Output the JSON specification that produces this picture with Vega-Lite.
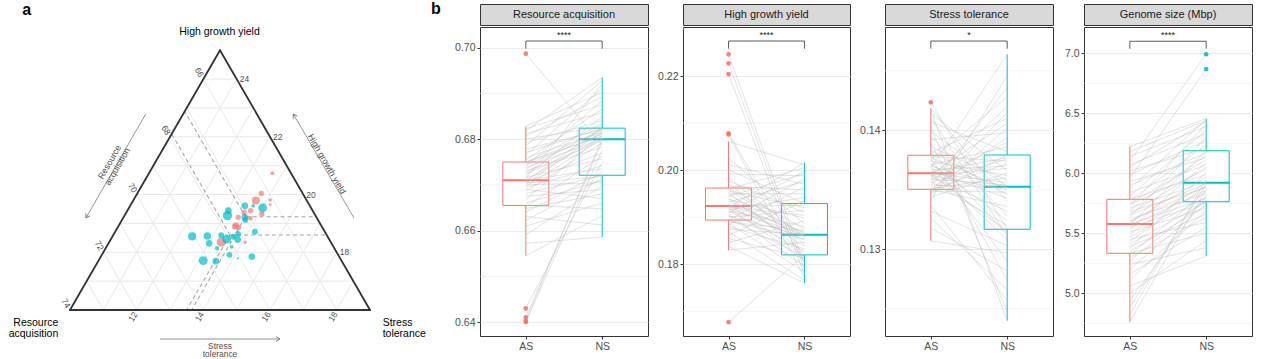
{
 "$schema": "https://vega.github.io/schema/vega-lite/v6.json",
 "padding": {"left": 0, "top": 0, "right": 0, "bottom": 0},
 "background": "white",
 "config": {
  "font": "Liberation Sans",
  "view": {"stroke": "#333333", "strokeWidth": 1},
  "axis": {"domain": false, "tickColor": "#333333", "tickSize": 3, "tickWidth": 1, "labelColor": "#4D4D4D", "labelFontSize": 10.5, "gridColor": "#EBEBEB", "gridWidth": 1.1, "labelPadding": 2, "title": null, "labelOverlap": false},
  "axisX": {"labelAngle": 0}
 },
 "datasets": {
  "tlines": [
   {"k":"grid","h1":17,"s1":10,"h2":17,"s2":18},{"k":"grid","h1":18,"s1":10,"h2":18,"s2":17},{"k":"grid","h1":19,"s1":10,"h2":19,"s2":16},{"k":"grid","h1":20,"s1":10,"h2":20,"s2":15},
   {"k":"grid","h1":21,"s1":10,"h2":21,"s2":14},{"k":"grid","h1":22,"s1":10,"h2":22,"s2":13},{"k":"grid","h1":23,"s1":10,"h2":23,"s2":12},{"k":"grid","h1":24,"s1":10,"h2":24,"s2":11},
   {"k":"grid","h1":16,"s1":11,"h2":24,"s2":11},{"k":"grid","h1":16,"s1":12,"h2":23,"s2":12},{"k":"grid","h1":16,"s1":13,"h2":22,"s2":13},{"k":"grid","h1":16,"s1":14,"h2":21,"s2":14},
   {"k":"grid","h1":16,"s1":15,"h2":20,"s2":15},{"k":"grid","h1":16,"s1":16,"h2":19,"s2":16},{"k":"grid","h1":16,"s1":17,"h2":18,"s2":17},{"k":"grid","h1":16,"s1":18,"h2":17,"s2":18},
   {"k":"grid","h1":16,"s1":18,"h2":24,"s2":10},{"k":"grid","h1":16,"s1":17,"h2":23,"s2":10},{"k":"grid","h1":16,"s1":16,"h2":22,"s2":10},{"k":"grid","h1":16,"s1":15,"h2":21,"s2":10},
   {"k":"grid","h1":16,"s1":14,"h2":20,"s2":10},{"k":"grid","h1":16,"s1":13,"h2":19,"s2":10},{"k":"grid","h1":16,"s1":12,"h2":18,"s2":10},{"k":"grid","h1":16,"s1":11,"h2":17,"s2":10},
   {"k":"edge","h1":16,"s1":10,"h2":25,"s2":10},{"k":"edge","h1":16,"s1":10,"h2":16,"s2":19},{"k":"edge","h1":16,"s1":19,"h2":25,"s2":10},
   {"k":"med","h1":19.23,"s1":13.65,"h2":19.23,"s2":15.77},{"k":"med","h1":19.23,"s1":13.65,"h2":22.88,"s2":10},{"k":"med","h1":19.23,"s1":13.65,"h2":16,"s2":13.65},
   {"k":"med","h1":18.6,"s1":13.5,"h2":18.6,"s2":16.4},{"k":"med","h1":18.6,"s1":13.5,"h2":22.1,"s2":10},{"k":"med","h1":18.6,"s1":13.5,"h2":16,"s2":13.5}
  ],
  "tpts": [
   {"g":"AS","h":20.74,"s":13.70,"n":9},{"g":"AS","h":20.04,"s":13.72,"n":17},{"g":"AS","h":19.79,"s":13.68,"n":40},{"g":"AS","h":19.81,"s":14.10,"n":7},
   {"g":"AS","h":19.65,"s":14.18,"n":5},{"g":"AS","h":19.44,"s":13.70,"n":17},{"g":"AS","h":19.33,"s":14.09,"n":17},{"g":"AS","h":19.21,"s":13.44,"n":17},
   {"g":"AS","h":19.18,"s":13.82,"n":13},{"g":"AS","h":18.94,"s":13.51,"n":20},{"g":"AS","h":18.89,"s":13.49,"n":20},{"g":"AS","h":18.86,"s":13.62,"n":20},
   {"g":"AS","h":18.35,"s":13.36,"n":50},{"g":"AS","h":18.35,"s":14.08,"n":7},{"g":"AS","h":19.38,"s":13.53,"n":17},
   {"g":"NS","h":19.61,"s":13.44,"n":28},{"g":"NS","h":19.61,"s":13.69,"n":9},{"g":"NS","h":19.54,"s":14.01,"n":50},{"g":"NS","h":19.44,"s":13.03,"n":28},
   {"g":"NS","h":19.27,"s":13.09,"n":55},{"g":"NS","h":19.21,"s":13.64,"n":28},{"g":"NS","h":19.12,"s":13.70,"n":22},{"g":"NS","h":18.71,"s":14.19,"n":22},
   {"g":"NS","h":18.55,"s":12.39,"n":42},{"g":"NS","h":18.56,"s":12.84,"n":35},{"g":"NS","h":18.31,"s":13.02,"n":28},{"g":"NS","h":18.59,"s":13.24,"n":22},
   {"g":"NS","h":18.46,"s":13.47,"n":50},{"g":"NS","h":18.54,"s":13.63,"n":22},{"g":"NS","h":18.63,"s":13.73,"n":22},{"g":"NS","h":18.44,"s":13.81,"n":28},
   {"g":"NS","h":18.14,"s":13.34,"n":12},{"g":"NS","h":18.19,"s":13.75,"n":9},{"g":"NS","h":17.71,"s":13.14,"n":50},{"g":"NS","h":17.69,"s":13.53,"n":28},
   {"g":"NS","h":17.91,"s":13.83,"n":22},{"g":"NS","h":17.79,"s":14.14,"n":3},{"g":"NS","h":17.85,"s":14.53,"n":28}
  ],
  "tlab": [
   {"side":"R","lab":"24","h":24,"s":11},{"side":"R","lab":"22","h":22,"s":13},{"side":"R","lab":"20","h":20,"s":15},{"side":"R","lab":"18","h":18,"s":17},
   {"side":"L","lab":"66","h":24,"s":10},{"side":"L","lab":"68","h":22,"s":10},{"side":"L","lab":"70","h":20,"s":10},{"side":"L","lab":"72","h":18,"s":10},{"side":"L","lab":"74","h":16,"s":10},
   {"side":"B","lab":"12","h":16,"s":12},{"side":"B","lab":"14","h":16,"s":14},{"side":"B","lab":"16","h":16,"s":16},{"side":"B","lab":"18","h":16,"s":18}
  ],
  "minor": [
   {"t":"RA","v":0.65},{"t":"RA","v":0.67},{"t":"RA","v":0.69},
   {"t":"HGY","v":0.17},{"t":"HGY","v":0.19},{"t":"HGY","v":0.21},{"t":"HGY","v":0.23},
   {"t":"ST","v":0.125},{"t":"ST","v":0.135},{"t":"ST","v":0.145},
   {"t":"GS","v":4.75},{"t":"GS","v":5.25},{"t":"GS","v":5.75},{"t":"GS","v":6.25},{"t":"GS","v":6.75}
  ],
  "stats": [
   {"t":"RA","g":"AS","lo":0.6545,"q1":0.6655,"med":0.6710,"q3":0.6750,"hi":0.6828},
   {"t":"RA","g":"NS","lo":0.6586,"q1":0.6721,"med":0.6800,"q3":0.6824,"hi":0.6935},
   {"t":"HGY","g":"AS","lo":0.1830,"q1":0.1894,"med":0.1924,"q3":0.1962,"hi":0.2061},
   {"t":"HGY","g":"NS","lo":0.1760,"q1":0.1820,"med":0.1863,"q3":0.1929,"hi":0.2016},
   {"t":"ST","g":"AS","lo":0.1307,"q1":0.13504,"med":0.13639,"q3":0.1379,"hi":0.14185},
   {"t":"ST","g":"NS","lo":0.1240,"q1":0.13168,"med":0.13526,"q3":0.13792,"hi":0.14638},
   {"t":"GS","g":"AS","lo":4.763,"q1":5.333,"med":5.578,"q3":5.783,"hi":6.222},
   {"t":"GS","g":"NS","lo":5.311,"q1":5.763,"med":5.922,"q3":6.188,"hi":6.455}
  ],
  "br": [
   {"t":"RA","top":0.70147,"leg":0.69978,"lab":"****"},
   {"t":"HGY","top":0.22743,"leg":0.2258,"lab":"****"},
   {"t":"ST","top":0.1475,"leg":0.14686,"lab":"*"},
   {"t":"GS","top":7.1,"leg":7.038,"lab":"****"}
  ],
  "outl": [
   {"t":"RA","g":"AS","v":0.6987},{"t":"RA","g":"AS","v":0.6430},{"t":"RA","g":"AS","v":0.6410},{"t":"RA","g":"AS","v":0.6402},{"t":"RA","g":"AS","v":0.6400},
   {"t":"HGY","g":"AS","v":0.2246},{"t":"HGY","g":"AS","v":0.2227},{"t":"HGY","g":"AS","v":0.2204},{"t":"HGY","g":"AS","v":0.2078},{"t":"HGY","g":"AS","v":0.2076},{"t":"HGY","g":"AS","v":0.1677},
   {"t":"ST","g":"AS","v":0.14235},
   {"t":"GS","g":"NS","v":6.992},{"t":"GS","g":"NS","v":6.869}
  ],
  "pairs": [
   {"t":"RA","id":1,"AS":0.6400,"NS":0.6776},{"t":"RA","id":2,"AS":0.6402,"NS":0.6803},{"t":"RA","id":3,"AS":0.6410,"NS":0.6795},{"t":"RA","id":4,"AS":0.6430,"NS":0.6750},
   {"t":"RA","id":5,"AS":0.6545,"NS":0.6633},{"t":"RA","id":6,"AS":0.6572,"NS":0.6586},{"t":"RA","id":7,"AS":0.6591,"NS":0.6698},{"t":"RA","id":8,"AS":0.6610,"NS":0.6660},
   {"t":"RA","id":9,"AS":0.6622,"NS":0.6714},{"t":"RA","id":10,"AS":0.6631,"NS":0.6612},{"t":"RA","id":11,"AS":0.6640,"NS":0.6727},{"t":"RA","id":12,"AS":0.6648,"NS":0.6680},
   {"t":"RA","id":13,"AS":0.6652,"NS":0.6763},{"t":"RA","id":14,"AS":0.6655,"NS":0.6648},{"t":"RA","id":15,"AS":0.6660,"NS":0.6710},{"t":"RA","id":16,"AS":0.6668,"NS":0.6809},
   {"t":"RA","id":17,"AS":0.6675,"NS":0.6690},{"t":"RA","id":18,"AS":0.6681,"NS":0.6721},{"t":"RA","id":19,"AS":0.6686,"NS":0.6792},{"t":"RA","id":20,"AS":0.6690,"NS":0.6670},
   {"t":"RA","id":21,"AS":0.6694,"NS":0.6742},{"t":"RA","id":22,"AS":0.6697,"NS":0.6800},{"t":"RA","id":23,"AS":0.6700,"NS":0.6705},{"t":"RA","id":24,"AS":0.6702,"NS":0.6817},
   {"t":"RA","id":25,"AS":0.6704,"NS":0.6718},{"t":"RA","id":26,"AS":0.6706,"NS":0.6770},{"t":"RA","id":27,"AS":0.6708,"NS":0.6824},{"t":"RA","id":28,"AS":0.6710,"NS":0.6735},
   {"t":"RA","id":29,"AS":0.6711,"NS":0.6805},{"t":"RA","id":30,"AS":0.6714,"NS":0.6920},{"t":"RA","id":31,"AS":0.6717,"NS":0.6757},{"t":"RA","id":32,"AS":0.6720,"NS":0.6849},
   {"t":"RA","id":33,"AS":0.6724,"NS":0.6798},{"t":"RA","id":34,"AS":0.6727,"NS":0.6813},{"t":"RA","id":35,"AS":0.6731,"NS":0.6782},{"t":"RA","id":36,"AS":0.6735,"NS":0.6822},
   {"t":"RA","id":37,"AS":0.6738,"NS":0.6801},{"t":"RA","id":38,"AS":0.6741,"NS":0.6884},{"t":"RA","id":39,"AS":0.6744,"NS":0.6811},{"t":"RA","id":40,"AS":0.6747,"NS":0.6819},
   {"t":"RA","id":41,"AS":0.6749,"NS":0.6834},{"t":"RA","id":42,"AS":0.6750,"NS":0.6807},{"t":"RA","id":43,"AS":0.6754,"NS":0.6866},{"t":"RA","id":44,"AS":0.6759,"NS":0.6815},
   {"t":"RA","id":45,"AS":0.6765,"NS":0.6911},{"t":"RA","id":46,"AS":0.6771,"NS":0.6823},{"t":"RA","id":47,"AS":0.6778,"NS":0.6821},{"t":"RA","id":48,"AS":0.6785,"NS":0.6928},
   {"t":"RA","id":49,"AS":0.6792,"NS":0.6841},{"t":"RA","id":50,"AS":0.6800,"NS":0.6828},{"t":"RA","id":51,"AS":0.6806,"NS":0.6893},{"t":"RA","id":52,"AS":0.6812,"NS":0.6858},
   {"t":"RA","id":53,"AS":0.6818,"NS":0.6935},{"t":"RA","id":54,"AS":0.6823,"NS":0.6875},{"t":"RA","id":55,"AS":0.6828,"NS":0.6902},{"t":"RA","id":56,"AS":0.6987,"NS":0.6787},
   {"t":"HGY","id":1,"AS":0.1677,"NS":0.1820},{"t":"HGY","id":2,"AS":0.1830,"NS":0.1847},{"t":"HGY","id":3,"AS":0.1838,"NS":0.1760},{"t":"HGY","id":4,"AS":0.1846,"NS":0.1892},
   {"t":"HGY","id":5,"AS":0.1855,"NS":0.1813},{"t":"HGY","id":6,"AS":0.1862,"NS":0.1935},{"t":"HGY","id":7,"AS":0.1869,"NS":0.1766},{"t":"HGY","id":8,"AS":0.1875,"NS":0.1863},
   {"t":"HGY","id":9,"AS":0.1880,"NS":0.1833},{"t":"HGY","id":10,"AS":0.1884,"NS":0.1964},{"t":"HGY","id":11,"AS":0.1887,"NS":0.1784},{"t":"HGY","id":12,"AS":0.1890,"NS":0.1872},
   {"t":"HGY","id":13,"AS":0.1892,"NS":0.1854},{"t":"HGY","id":14,"AS":0.1894,"NS":0.1982},{"t":"HGY","id":15,"AS":0.1897,"NS":0.1816},{"t":"HGY","id":16,"AS":0.1900,"NS":0.1915},
   {"t":"HGY","id":17,"AS":0.1903,"NS":0.1860},{"t":"HGY","id":18,"AS":0.1906,"NS":0.1796},{"t":"HGY","id":19,"AS":0.1909,"NS":0.1998},{"t":"HGY","id":20,"AS":0.1912,"NS":0.1881},
   {"t":"HGY","id":21,"AS":0.1914,"NS":0.1828},{"t":"HGY","id":22,"AS":0.1916,"NS":0.1942},{"t":"HGY","id":23,"AS":0.1918,"NS":0.1862},{"t":"HGY","id":24,"AS":0.1920,"NS":0.1809},
   {"t":"HGY","id":25,"AS":0.1921,"NS":0.2016},{"t":"HGY","id":26,"AS":0.1922,"NS":0.1904},{"t":"HGY","id":27,"AS":0.1923,"NS":0.1851},{"t":"HGY","id":28,"AS":0.1924,"NS":0.1925},
   {"t":"HGY","id":29,"AS":0.1926,"NS":0.1868},{"t":"HGY","id":30,"AS":0.1929,"NS":0.1818},{"t":"HGY","id":31,"AS":0.1932,"NS":0.1976},{"t":"HGY","id":32,"AS":0.1935,"NS":0.1859},
   {"t":"HGY","id":33,"AS":0.1938,"NS":0.1898},{"t":"HGY","id":34,"AS":0.1941,"NS":0.1838},{"t":"HGY","id":35,"AS":0.1944,"NS":0.1993},{"t":"HGY","id":36,"AS":0.1947,"NS":0.1865},
   {"t":"HGY","id":37,"AS":0.1950,"NS":0.1950},{"t":"HGY","id":38,"AS":0.1953,"NS":0.1824},{"t":"HGY","id":39,"AS":0.1956,"NS":0.1920},{"t":"HGY","id":40,"AS":0.1958,"NS":0.1861},
   {"t":"HGY","id":41,"AS":0.1960,"NS":0.2005},{"t":"HGY","id":42,"AS":0.1962,"NS":0.1876},{"t":"HGY","id":43,"AS":0.1966,"NS":0.1958},{"t":"HGY","id":44,"AS":0.1971,"NS":0.1843},
   {"t":"HGY","id":45,"AS":0.1977,"NS":0.1910},{"t":"HGY","id":46,"AS":0.1984,"NS":0.1857},{"t":"HGY","id":47,"AS":0.1992,"NS":0.1988},{"t":"HGY","id":48,"AS":0.2001,"NS":0.1929},
   {"t":"HGY","id":49,"AS":0.2012,"NS":0.1970},{"t":"HGY","id":50,"AS":0.2025,"NS":0.1886},{"t":"HGY","id":51,"AS":0.2061,"NS":0.2011},{"t":"HGY","id":52,"AS":0.2076,"NS":0.1772},
   {"t":"HGY","id":53,"AS":0.2078,"NS":0.1805},{"t":"HGY","id":54,"AS":0.2204,"NS":0.1778},{"t":"HGY","id":55,"AS":0.2227,"NS":0.1790},{"t":"HGY","id":56,"AS":0.2246,"NS":0.1801},
   {"t":"ST","id":1,"AS":0.1307,"NS":0.1297},{"t":"ST","id":2,"AS":0.1318,"NS":0.1282},{"t":"ST","id":3,"AS":0.1326,"NS":0.1266},{"t":"ST","id":4,"AS":0.1332,"NS":0.1303},
   {"t":"ST","id":5,"AS":0.1337,"NS":0.1257},{"t":"ST","id":6,"AS":0.1341,"NS":0.1446},{"t":"ST","id":7,"AS":0.1344,"NS":0.1364},{"t":"ST","id":8,"AS":0.1346,"NS":0.1402},
   {"t":"ST","id":9,"AS":0.1347,"NS":0.13792},{"t":"ST","id":10,"AS":0.1348,"NS":0.1415},{"t":"ST","id":11,"AS":0.1349,"NS":0.1348},{"t":"ST","id":12,"AS":0.1350,"NS":0.1372},
   {"t":"ST","id":13,"AS":0.13502,"NS":0.1336},{"t":"ST","id":14,"AS":0.13504,"NS":0.1394},{"t":"ST","id":15,"AS":0.1351,"NS":0.1360},{"t":"ST","id":16,"AS":0.1353,"NS":0.1436},
   {"t":"ST","id":17,"AS":0.1354,"NS":0.1352},{"t":"ST","id":18,"AS":0.1356,"NS":0.1376},{"t":"ST","id":19,"AS":0.1357,"NS":0.1320},{"t":"ST","id":20,"AS":0.1358,"NS":0.1390},
   {"t":"ST","id":21,"AS":0.1359,"NS":0.1354},{"t":"ST","id":22,"AS":0.1360,"NS":0.1420},{"t":"ST","id":23,"AS":0.1361,"NS":0.1332},{"t":"ST","id":24,"AS":0.1362,"NS":0.1368},
   {"t":"ST","id":25,"AS":0.1362,"NS":0.1350},{"t":"ST","id":26,"AS":0.1363,"NS":0.1406},{"t":"ST","id":27,"AS":0.1363,"NS":0.1315},{"t":"ST","id":28,"AS":0.1364,"NS":0.1356},
   {"t":"ST","id":29,"AS":0.1365,"NS":0.1377},{"t":"ST","id":30,"AS":0.1366,"NS":0.1343},{"t":"ST","id":31,"AS":0.1367,"NS":0.1370},{"t":"ST","id":32,"AS":0.1368,"NS":0.14638},
   {"t":"ST","id":33,"AS":0.1369,"NS":0.1308},{"t":"ST","id":34,"AS":0.1370,"NS":0.1352},{"t":"ST","id":35,"AS":0.1371,"NS":0.1386},{"t":"ST","id":36,"AS":0.1372,"NS":0.1324},
   {"t":"ST","id":37,"AS":0.1374,"NS":0.1362},{"t":"ST","id":38,"AS":0.1375,"NS":0.1428},{"t":"ST","id":39,"AS":0.1376,"NS":0.1290},{"t":"ST","id":40,"AS":0.1377,"NS":0.1351},
   {"t":"ST","id":41,"AS":0.1378,"NS":0.1374},{"t":"ST","id":42,"AS":0.1379,"NS":0.1313},{"t":"ST","id":43,"AS":0.1381,"NS":0.1410},{"t":"ST","id":44,"AS":0.1383,"NS":0.1346},
   {"t":"ST","id":45,"AS":0.1386,"NS":0.1358},{"t":"ST","id":46,"AS":0.1389,"NS":0.1274},{"t":"ST","id":47,"AS":0.1392,"NS":0.1398},{"t":"ST","id":48,"AS":0.1395,"NS":0.1328},
   {"t":"ST","id":49,"AS":0.1399,"NS":0.13526},{"t":"ST","id":50,"AS":0.1403,"NS":0.1248},{"t":"ST","id":51,"AS":0.1407,"NS":0.1382},{"t":"ST","id":52,"AS":0.1411,"NS":0.1311},
   {"t":"ST","id":53,"AS":0.1414,"NS":0.1366},{"t":"ST","id":54,"AS":0.1417,"NS":0.1240},{"t":"ST","id":55,"AS":0.14185,"NS":0.1340},{"t":"ST","id":56,"AS":0.14235,"NS":0.13168},
   {"t":"GS","id":1,"AS":4.763,"NS":5.87},{"t":"GS","id":2,"AS":4.82,"NS":5.95},{"t":"GS","id":3,"AS":4.88,"NS":5.91},{"t":"GS","id":4,"AS":4.94,"NS":5.82},
   {"t":"GS","id":5,"AS":5.00,"NS":5.44},{"t":"GS","id":6,"AS":5.06,"NS":5.311},{"t":"GS","id":7,"AS":5.11,"NS":5.69},{"t":"GS","id":8,"AS":5.16,"NS":5.55},
   {"t":"GS","id":9,"AS":5.20,"NS":5.745},{"t":"GS","id":10,"AS":5.24,"NS":5.38},{"t":"GS","id":11,"AS":5.27,"NS":5.78},{"t":"GS","id":12,"AS":5.30,"NS":5.63},
   {"t":"GS","id":13,"AS":5.32,"NS":5.85},{"t":"GS","id":14,"AS":5.333,"NS":5.50},{"t":"GS","id":15,"AS":5.35,"NS":5.73},{"t":"GS","id":16,"AS":5.37,"NS":6.01},
   {"t":"GS","id":17,"AS":5.39,"NS":5.66},{"t":"GS","id":18,"AS":5.41,"NS":5.763},{"t":"GS","id":19,"AS":5.43,"NS":5.90},{"t":"GS","id":20,"AS":5.45,"NS":5.59},
   {"t":"GS","id":21,"AS":5.47,"NS":5.80},{"t":"GS","id":22,"AS":5.49,"NS":5.922},{"t":"GS","id":23,"AS":5.51,"NS":5.71},{"t":"GS","id":24,"AS":5.53,"NS":6.09},
   {"t":"GS","id":25,"AS":5.55,"NS":5.755},{"t":"GS","id":26,"AS":5.56,"NS":5.86},{"t":"GS","id":27,"AS":5.57,"NS":6.188},{"t":"GS","id":28,"AS":5.578,"NS":5.79},
   {"t":"GS","id":29,"AS":5.59,"NS":5.97},{"t":"GS","id":30,"AS":5.60,"NS":5.89},{"t":"GS","id":31,"AS":5.62,"NS":5.83},{"t":"GS","id":32,"AS":5.63,"NS":6.30},
   {"t":"GS","id":33,"AS":5.65,"NS":5.915},{"t":"GS","id":34,"AS":5.66,"NS":6.05},{"t":"GS","id":35,"AS":5.68,"NS":5.88},{"t":"GS","id":36,"AS":5.69,"NS":6.15},
   {"t":"GS","id":37,"AS":5.71,"NS":5.93},{"t":"GS","id":38,"AS":5.72,"NS":6.41},{"t":"GS","id":39,"AS":5.74,"NS":6.03},{"t":"GS","id":40,"AS":5.75,"NS":6.11},
   {"t":"GS","id":41,"AS":5.77,"NS":6.24},{"t":"GS","id":42,"AS":5.783,"NS":5.99},{"t":"GS","id":43,"AS":5.81,"NS":6.36},{"t":"GS","id":44,"AS":5.84,"NS":6.07},
   {"t":"GS","id":45,"AS":5.87,"NS":6.45},{"t":"GS","id":46,"AS":5.90,"NS":6.17},{"t":"GS","id":47,"AS":5.93,"NS":6.13},{"t":"GS","id":48,"AS":5.96,"NS":6.869},
   {"t":"GS","id":49,"AS":5.99,"NS":6.27},{"t":"GS","id":50,"AS":6.02,"NS":6.21},{"t":"GS","id":51,"AS":6.05,"NS":6.43},{"t":"GS","id":52,"AS":6.07,"NS":6.33},
   {"t":"GS","id":53,"AS":6.10,"NS":6.992},{"t":"GS","id":54,"AS":6.14,"NS":6.39},{"t":"GS","id":55,"AS":6.18,"NS":6.44},{"t":"GS","id":56,"AS":6.222,"NS":6.455}
  ]
 },
 "spacing": 3,
 "hconcat": [
  {
   "width": 446, "height": 354,
   "view": {"stroke": null},
   "data": {"values": [{}]},
   "layer": [
    {"data": {"name": "tlines"},
     "transform": [{"filter": "datum.k=='grid'"},{"calculate": "(datum.s1-10)/9+(datum.h1-16)/18","as": "x1"},{"calculate": "(datum.h1-16)/9*0.8660254","as": "y1"},{"calculate": "(datum.s2-10)/9+(datum.h2-16)/18","as": "x2"},{"calculate": "(datum.h2-16)/9*0.8660254","as": "y2"}],
     "mark": {"type": "rule", "color": "#E8E8E8", "strokeWidth": 1},
     "encoding": {
      "x": {"field": "x1", "type": "quantitative", "scale": {"domain": [-0.23333, 1.25333], "nice": false, "zero": false}, "axis": null},
      "y": {"field": "y1", "type": "quantitative", "scale": {"domain": [-0.16, 1.02], "nice": false, "zero": false}, "axis": null},
      "x2": {"field": "x2"}, "y2": {"field": "y2"}}},
    {"data": {"name": "tlines"},
     "transform": [{"filter": "datum.k=='med'"},{"calculate": "(datum.s1-10)/9+(datum.h1-16)/18","as": "x1"},{"calculate": "(datum.h1-16)/9*0.8660254","as": "y1"},{"calculate": "(datum.s2-10)/9+(datum.h2-16)/18","as": "x2"},{"calculate": "(datum.h2-16)/9*0.8660254","as": "y2"}],
     "mark": {"type": "rule", "color": "#A6A6A6", "strokeWidth": 1.1, "strokeDash": [4, 3]},
     "encoding": {"x": {"field": "x1", "type": "quantitative", "axis": null}, "y": {"field": "y1", "type": "quantitative", "axis": null}, "x2": {"field": "x2"}, "y2": {"field": "y2"}}},
    {"data": {"name": "tlines"},
     "transform": [{"filter": "datum.k=='edge'"},{"calculate": "(datum.s1-10)/9+(datum.h1-16)/18","as": "x1"},{"calculate": "(datum.h1-16)/9*0.8660254","as": "y1"},{"calculate": "(datum.s2-10)/9+(datum.h2-16)/18","as": "x2"},{"calculate": "(datum.h2-16)/9*0.8660254","as": "y2"}],
     "mark": {"type": "rule", "color": "#333333", "strokeWidth": 1.8, "strokeCap": "round"},
     "encoding": {"x": {"field": "x1", "type": "quantitative", "axis": null}, "y": {"field": "y1", "type": "quantitative", "axis": null}, "x2": {"field": "x2"}, "y2": {"field": "y2"}}},
    {"data": {"name": "tpts"},
     "transform": [{"calculate": "(datum.s-10)/9+(datum.h-16)/18","as": "x"},{"calculate": "(datum.h-16)/9*0.8660254","as": "y"}],
     "mark": {"type": "circle", "opacity": 0.7},
     "encoding": {"x": {"field": "x", "type": "quantitative", "axis": null}, "y": {"field": "y", "type": "quantitative", "axis": null},
      "size": {"field": "n", "type": "quantitative", "scale": {"domain": [0, 50], "range": [0, 80]}, "legend": null},
      "color": {"field": "g", "type": "nominal", "scale": {"domain": ["AS", "NS"], "range": ["#F8766D", "#00BFC4"]}, "legend": null}}},
    {"data": {"name": "tlab"},
     "transform": [{"filter": "datum.side=='R'"},{"calculate": "(datum.s-10)/9+(datum.h-16)/18","as": "x"},{"calculate": "(datum.h-16)/9*0.8660254","as": "y"}],
     "mark": {"type": "text", "align": "left", "baseline": "middle", "dx": 3, "fontSize": 8.5, "color": "#4D4D4D"},
     "encoding": {"x": {"field": "x", "type": "quantitative", "axis": null}, "y": {"field": "y", "type": "quantitative", "axis": null}, "text": {"field": "lab"}}},
    {"data": {"name": "tlab"},
     "transform": [{"filter": "datum.side=='L'"},{"calculate": "(datum.s-10)/9+(datum.h-16)/18","as": "x"},{"calculate": "(datum.h-16)/9*0.8660254","as": "y"}],
     "mark": {"type": "text", "align": "right", "baseline": "middle", "dx": -3, "angle": 60, "fontSize": 8.5, "color": "#4D4D4D"},
     "encoding": {"x": {"field": "x", "type": "quantitative", "axis": null}, "y": {"field": "y", "type": "quantitative", "axis": null}, "text": {"field": "lab"}}},
    {"data": {"name": "tlab"},
     "transform": [{"filter": "datum.side=='B'"},{"calculate": "(datum.s-10)/9+(datum.h-16)/18","as": "x"},{"calculate": "(datum.h-16)/9*0.8660254","as": "y"}],
     "mark": {"type": "text", "align": "right", "baseline": "middle", "dx": -3, "angle": -60, "fontSize": 8.5, "color": "#4D4D4D"},
     "encoding": {"x": {"field": "x", "type": "quantitative", "axis": null}, "y": {"field": "y", "type": "quantitative", "axis": null}, "text": {"field": "lab"}}},
    {"mark": {"type": "text", "align": "center", "baseline": "middle", "fontSize": 10.5, "color": "#000000"},
     "encoding": {"x": {"datum": 0.4983, "axis": null}, "y": {"datum": 0.9267, "axis": null}, "text": {"value": "High growth yield"}}},
    {"mark": {"type": "text", "align": "right", "baseline": "middle", "fontSize": 10.5, "lineHeight": 11.5, "color": "#000000"},
     "encoding": {"x": {"datum": -0.039, "axis": null}, "y": {"datum": -0.0417, "axis": null}, "text": {"value": ["Resource", "acquisition"]}}},
    {"mark": {"type": "text", "align": "left", "baseline": "middle", "fontSize": 10.5, "lineHeight": 11.5, "color": "#000000"},
     "encoding": {"x": {"datum": 1.0423, "axis": null}, "y": {"datum": -0.0417, "axis": null}, "text": {"value": ["Stress", "tolerance"]}}},
    {"mark": {"type": "rule", "color": "#666666", "strokeWidth": 0.7},
     "encoding": {"x": {"datum": 0.2523, "axis": null}, "y": {"datum": 0.6533, "axis": null}, "x2": {"datum": 0.0533}, "y2": {"datum": 0.3067}}},
    {"mark": {"type": "rule", "color": "#666666", "strokeWidth": 0.7},
     "encoding": {"x": {"datum": 0.9467, "axis": null}, "y": {"datum": 0.3067, "axis": null}, "x2": {"datum": 0.7443}, "y2": {"datum": 0.6533}}},
    {"mark": {"type": "rule", "color": "#666666", "strokeWidth": 0.7},
     "encoding": {"x": {"datum": 0.3, "axis": null}, "y": {"datum": -0.0967, "axis": null}, "x2": {"datum": 0.7}, "y2": {"datum": -0.0967}}},
    {"mark": {"type": "point", "shape": "M-1,-0.6L0,0L-1,0.6", "filled": false, "size": 64, "angle": 120, "color": "#666666", "strokeWidth": 0.8, "opacity": 1},
     "encoding": {"x": {"datum": 0.0533, "axis": null}, "y": {"datum": 0.3067, "axis": null}}},
    {"mark": {"type": "point", "shape": "M-1,-0.6L0,0L-1,0.6", "filled": false, "size": 64, "angle": 240, "color": "#666666", "strokeWidth": 0.8, "opacity": 1},
     "encoding": {"x": {"datum": 0.7443, "axis": null}, "y": {"datum": 0.6533, "axis": null}}},
    {"mark": {"type": "point", "shape": "M-1,-0.6L0,0L-1,0.6", "filled": false, "size": 64, "angle": 0, "color": "#666666", "strokeWidth": 0.8, "opacity": 1},
     "encoding": {"x": {"datum": 0.7, "axis": null}, "y": {"datum": -0.0967, "axis": null}}},
    {"mark": {"type": "text", "align": "center", "baseline": "middle", "angle": -60, "fontSize": 8.8, "lineHeight": 9, "color": "#4D4D4D"},
     "encoding": {"x": {"datum": 0.1317, "axis": null}, "y": {"datum": 0.4933, "axis": null}, "text": {"value": ["Resource", "acquisition"]}}},
    {"mark": {"type": "text", "align": "center", "baseline": "middle", "angle": 60, "fontSize": 8.8, "color": "#4D4D4D"},
     "encoding": {"x": {"datum": 0.8567, "axis": null}, "y": {"datum": 0.4867, "axis": null}, "text": {"value": "High growth yield"}}},
    {"mark": {"type": "text", "align": "center", "baseline": "middle", "fontSize": 8.4, "lineHeight": 8.2, "color": "#4D4D4D"},
     "encoding": {"x": {"datum": 0.5, "axis": null}, "y": {"datum": -0.1205, "axis": null}, "text": {"value": ["Stress", "tolerance"]}}},
    {"mark": {"type": "text", "align": "center", "baseline": "alphabetic", "fontSize": 16, "fontWeight": "bold", "color": "#000000"},
     "encoding": {"x": {"datum": -0.1443, "axis": null}, "y": {"datum": 0.98333, "axis": null}, "text": {"value": "a"}}},
    {"mark": {"type": "text", "align": "center", "baseline": "alphabetic", "fontSize": 16, "fontWeight": "bold", "color": "#000000"},
     "encoding": {"x": {"datum": 1.22, "axis": null}, "y": {"datum": 0.98667, "axis": null}, "text": {"value": "b"}}}
   ]
  },
  {
   "spacing": 0,
   "vconcat": [
    {"width": 168, "height": 21, "view": {"fill": "#D9D9D9", "stroke": "#333333"},
     "data": {"values": [{"s": "Resource acquisition"}]},
     "mark": {"type": "text", "fontSize": 11, "color": "#1A1A1A", "baseline": "middle"},
     "encoding": {"text": {"field": "s"}, "y": {"datum": 0.5, "type": "quantitative", "scale": {"domain": [0, 1]}, "axis": {"minExtent": 30, "maxExtent": 30, "labels": false, "ticks": false, "domain": false, "grid": false, "title": null}}}},
    {"width": 168, "height": 309,
     "layer": [
      {"data": {"name": "minor"}, "transform": [{"filter": "datum.t=='RA'"}],
       "mark": {"type": "rule", "color": "#EBEBEB", "strokeWidth": 0.6},
       "encoding": {"y": {"field": "v", "type": "quantitative", "title": null, "scale": {"domain": [0.63694, 0.70453], "nice": false, "zero": false},
         "axis": {"values": [0.64, 0.66, 0.68, 0.70], "format": ".2f", "minExtent": 30, "maxExtent": 30}}}},
      {"data": {"name": "stats"}, "transform": [{"filter": "datum.t=='RA'"}],
       "mark": {"type": "rule", "strokeWidth": 1},
       "encoding": {
        "x": {"field": "g", "type": "nominal", "title": null, "scale": {"type": "point", "domain": ["AS", "NS"], "padding": 0.6}},
        "y": {"field": "lo", "type": "quantitative", "title": null},
        "y2": {"field": "hi"},
        "color": {"field": "g", "type": "nominal", "scale": {"domain": ["AS", "NS"], "range": ["#F8766D", "#00BFC4"]}, "legend": null}}},
      {"data": {"name": "stats"}, "transform": [{"filter": "datum.t=='RA'"}],
       "mark": {"type": "bar", "fill": "white", "strokeWidth": 1, "width": 46},
       "encoding": {"x": {"field": "g", "type": "nominal"}, "y": {"field": "q1", "type": "quantitative"}, "y2": {"field": "q3"},
        "stroke": {"field": "g", "type": "nominal", "scale": {"domain": ["AS", "NS"], "range": ["#F8766D", "#00BFC4"]}, "legend": null}}},
      {"data": {"name": "stats"}, "transform": [{"filter": "datum.t=='RA'"}],
       "mark": {"type": "tick", "size": 46, "thickness": 2, "opacity": 1},
       "encoding": {"x": {"field": "g", "type": "nominal"}, "y": {"field": "med", "type": "quantitative"}, "color": {"field": "g", "type": "nominal", "legend": null}}},
      {"data": {"name": "pairs"}, "transform": [{"filter": "datum.t=='RA'"}, {"fold": ["AS", "NS"], "as": ["g", "v"]}],
       "mark": {"type": "line", "color": "#BDBDBD", "strokeWidth": 0.8, "opacity": 0.55},
       "encoding": {"x": {"field": "g", "type": "nominal"}, "y": {"field": "v", "type": "quantitative"}, "detail": {"field": "id", "type": "nominal"}}},
      {"data": {"name": "outl"}, "transform": [{"filter": "datum.t=='RA'"}],
       "mark": {"type": "circle", "size": 22, "opacity": 0.9},
       "encoding": {"x": {"field": "g", "type": "nominal"}, "y": {"field": "v", "type": "quantitative"}, "color": {"field": "g", "type": "nominal", "legend": null}}},
      {"data": {"name": "br"}, "transform": [{"filter": "datum.t=='RA'"}],
       "mark": {"type": "rule", "color": "#333333", "strokeWidth": 0.8},
       "encoding": {"x": {"datum": "AS"}, "x2": {"datum": "NS"}, "y": {"field": "top", "type": "quantitative"}}},
      {"data": {"name": "br"}, "transform": [{"filter": "datum.t=='RA'"}],
       "mark": {"type": "rule", "color": "#333333", "strokeWidth": 0.8},
       "encoding": {"x": {"datum": "AS"}, "y": {"field": "top", "type": "quantitative"}, "y2": {"field": "leg"}}},
      {"data": {"name": "br"}, "transform": [{"filter": "datum.t=='RA'"}],
       "mark": {"type": "rule", "color": "#333333", "strokeWidth": 0.8},
       "encoding": {"x": {"datum": "NS"}, "y": {"field": "top", "type": "quantitative"}, "y2": {"field": "leg"}}},
      {"data": {"name": "br"}, "transform": [{"filter": "datum.t=='RA'"}],
       "mark": {"type": "text", "dx": 38.2, "dy": -3, "baseline": "alphabetic", "fontSize": 9, "color": "#1A1A1A"},
       "encoding": {"x": {"datum": "AS"}, "y": {"field": "top", "type": "quantitative"}, "text": {"field": "lab"}}}
     ]}
   ]
  },
  {
   "spacing": 0,
   "vconcat": [
    {"width": 167, "height": 21, "view": {"fill": "#D9D9D9", "stroke": "#333333"},
     "data": {"values": [{"s": "High growth yield"}]},
     "mark": {"type": "text", "fontSize": 11, "color": "#1A1A1A", "baseline": "middle"},
     "encoding": {"text": {"field": "s"}, "y": {"datum": 0.5, "type": "quantitative", "scale": {"domain": [0, 1]}, "axis": {"minExtent": 30, "maxExtent": 30, "labels": false, "ticks": false, "domain": false, "grid": false, "title": null}}}},
    {"width": 167, "height": 309,
     "layer": [
      {"data": {"name": "minor"}, "transform": [{"filter": "datum.t=='HGY'"}],
       "mark": {"type": "rule", "color": "#EBEBEB", "strokeWidth": 0.6},
       "encoding": {"y": {"field": "v", "type": "quantitative", "title": null, "scale": {"domain": [0.16477, 0.23041], "nice": false, "zero": false},
         "axis": {"values": [0.18, 0.20, 0.22], "format": ".2f", "minExtent": 30, "maxExtent": 30}}}},
      {"data": {"name": "stats"}, "transform": [{"filter": "datum.t=='HGY'"}],
       "mark": {"type": "rule", "strokeWidth": 1},
       "encoding": {
        "x": {"field": "g", "type": "nominal", "title": null, "scale": {"type": "point", "domain": ["AS", "NS"], "padding": 0.6}},
        "y": {"field": "lo", "type": "quantitative", "title": null},
        "y2": {"field": "hi"},
        "color": {"field": "g", "type": "nominal", "scale": {"domain": ["AS", "NS"], "range": ["#F8766D", "#00BFC4"]}, "legend": null}}},
      {"data": {"name": "stats"}, "transform": [{"filter": "datum.t=='HGY'"}],
       "mark": {"type": "bar", "fill": "white", "strokeWidth": 1, "width": 46},
       "encoding": {"x": {"field": "g", "type": "nominal"}, "y": {"field": "q1", "type": "quantitative"}, "y2": {"field": "q3"},
        "stroke": {"field": "g", "type": "nominal", "scale": {"domain": ["AS", "NS"], "range": ["#F8766D", "#00BFC4"]}, "legend": null}}},
      {"data": {"name": "stats"}, "transform": [{"filter": "datum.t=='HGY'"}],
       "mark": {"type": "tick", "size": 46, "thickness": 2, "opacity": 1},
       "encoding": {"x": {"field": "g", "type": "nominal"}, "y": {"field": "med", "type": "quantitative"}, "color": {"field": "g", "type": "nominal", "legend": null}}},
      {"data": {"name": "pairs"}, "transform": [{"filter": "datum.t=='HGY'"}, {"fold": ["AS", "NS"], "as": ["g", "v"]}],
       "mark": {"type": "line", "color": "#BDBDBD", "strokeWidth": 0.8, "opacity": 0.55},
       "encoding": {"x": {"field": "g", "type": "nominal"}, "y": {"field": "v", "type": "quantitative"}, "detail": {"field": "id", "type": "nominal"}}},
      {"data": {"name": "outl"}, "transform": [{"filter": "datum.t=='HGY'"}],
       "mark": {"type": "circle", "size": 22, "opacity": 0.9},
       "encoding": {"x": {"field": "g", "type": "nominal"}, "y": {"field": "v", "type": "quantitative"}, "color": {"field": "g", "type": "nominal", "legend": null}}},
      {"data": {"name": "br"}, "transform": [{"filter": "datum.t=='HGY'"}],
       "mark": {"type": "rule", "color": "#333333", "strokeWidth": 0.8},
       "encoding": {"x": {"datum": "AS"}, "x2": {"datum": "NS"}, "y": {"field": "top", "type": "quantitative"}}},
      {"data": {"name": "br"}, "transform": [{"filter": "datum.t=='HGY'"}],
       "mark": {"type": "rule", "color": "#333333", "strokeWidth": 0.8},
       "encoding": {"x": {"datum": "AS"}, "y": {"field": "top", "type": "quantitative"}, "y2": {"field": "leg"}}},
      {"data": {"name": "br"}, "transform": [{"filter": "datum.t=='HGY'"}],
       "mark": {"type": "rule", "color": "#333333", "strokeWidth": 0.8},
       "encoding": {"x": {"datum": "NS"}, "y": {"field": "top", "type": "quantitative"}, "y2": {"field": "leg"}}},
      {"data": {"name": "br"}, "transform": [{"filter": "datum.t=='HGY'"}],
       "mark": {"type": "text", "dx": 38, "dy": -3, "baseline": "alphabetic", "fontSize": 9, "color": "#1A1A1A"},
       "encoding": {"x": {"datum": "AS"}, "y": {"field": "top", "type": "quantitative"}, "text": {"field": "lab"}}}
     ]}
   ]
  },
  {
   "spacing": 0,
   "vconcat": [
    {"width": 168, "height": 21, "view": {"fill": "#D9D9D9", "stroke": "#333333"},
     "data": {"values": [{"s": "Stress tolerance"}]},
     "mark": {"type": "text", "fontSize": 11, "color": "#1A1A1A", "baseline": "middle"},
     "encoding": {"text": {"field": "s"}, "y": {"datum": 0.5, "type": "quantitative", "scale": {"domain": [0, 1]}, "axis": {"minExtent": 30, "maxExtent": 30, "labels": false, "ticks": false, "domain": false, "grid": false, "title": null}}}},
    {"width": 168, "height": 309,
     "layer": [
      {"data": {"name": "minor"}, "transform": [{"filter": "datum.t=='ST'"}],
       "mark": {"type": "rule", "color": "#EBEBEB", "strokeWidth": 0.6},
       "encoding": {"y": {"field": "v", "type": "quantitative", "title": null, "scale": {"domain": [0.12271, 0.14868], "nice": false, "zero": false},
         "axis": {"values": [0.13, 0.14], "format": ".2f", "minExtent": 30, "maxExtent": 30}}}},
      {"data": {"name": "stats"}, "transform": [{"filter": "datum.t=='ST'"}],
       "mark": {"type": "rule", "strokeWidth": 1},
       "encoding": {
        "x": {"field": "g", "type": "nominal", "title": null, "scale": {"type": "point", "domain": ["AS", "NS"], "padding": 0.6}},
        "y": {"field": "lo", "type": "quantitative", "title": null},
        "y2": {"field": "hi"},
        "color": {"field": "g", "type": "nominal", "scale": {"domain": ["AS", "NS"], "range": ["#F8766D", "#00BFC4"]}, "legend": null}}},
      {"data": {"name": "stats"}, "transform": [{"filter": "datum.t=='ST'"}],
       "mark": {"type": "bar", "fill": "white", "strokeWidth": 1, "width": 46},
       "encoding": {"x": {"field": "g", "type": "nominal"}, "y": {"field": "q1", "type": "quantitative"}, "y2": {"field": "q3"},
        "stroke": {"field": "g", "type": "nominal", "scale": {"domain": ["AS", "NS"], "range": ["#F8766D", "#00BFC4"]}, "legend": null}}},
      {"data": {"name": "stats"}, "transform": [{"filter": "datum.t=='ST'"}],
       "mark": {"type": "tick", "size": 46, "thickness": 2, "opacity": 1},
       "encoding": {"x": {"field": "g", "type": "nominal"}, "y": {"field": "med", "type": "quantitative"}, "color": {"field": "g", "type": "nominal", "legend": null}}},
      {"data": {"name": "pairs"}, "transform": [{"filter": "datum.t=='ST'"}, {"fold": ["AS", "NS"], "as": ["g", "v"]}],
       "mark": {"type": "line", "color": "#BDBDBD", "strokeWidth": 0.8, "opacity": 0.55},
       "encoding": {"x": {"field": "g", "type": "nominal"}, "y": {"field": "v", "type": "quantitative"}, "detail": {"field": "id", "type": "nominal"}}},
      {"data": {"name": "outl"}, "transform": [{"filter": "datum.t=='ST'"}],
       "mark": {"type": "circle", "size": 22, "opacity": 0.9},
       "encoding": {"x": {"field": "g", "type": "nominal"}, "y": {"field": "v", "type": "quantitative"}, "color": {"field": "g", "type": "nominal", "legend": null}}},
      {"data": {"name": "br"}, "transform": [{"filter": "datum.t=='ST'"}],
       "mark": {"type": "rule", "color": "#333333", "strokeWidth": 0.8},
       "encoding": {"x": {"datum": "AS"}, "x2": {"datum": "NS"}, "y": {"field": "top", "type": "quantitative"}}},
      {"data": {"name": "br"}, "transform": [{"filter": "datum.t=='ST'"}],
       "mark": {"type": "rule", "color": "#333333", "strokeWidth": 0.8},
       "encoding": {"x": {"datum": "AS"}, "y": {"field": "top", "type": "quantitative"}, "y2": {"field": "leg"}}},
      {"data": {"name": "br"}, "transform": [{"filter": "datum.t=='ST'"}],
       "mark": {"type": "rule", "color": "#333333", "strokeWidth": 0.8},
       "encoding": {"x": {"datum": "NS"}, "y": {"field": "top", "type": "quantitative"}, "y2": {"field": "leg"}}},
      {"data": {"name": "br"}, "transform": [{"filter": "datum.t=='ST'"}],
       "mark": {"type": "text", "dx": 38.2, "dy": -3, "baseline": "alphabetic", "fontSize": 9, "color": "#1A1A1A"},
       "encoding": {"x": {"datum": "AS"}, "y": {"field": "top", "type": "quantitative"}, "text": {"field": "lab"}}}
     ]}
   ]
  },
  {
   "spacing": 0,
   "vconcat": [
    {"width": 168, "height": 21, "view": {"fill": "#D9D9D9", "stroke": "#333333"},
     "data": {"values": [{"s": "Genome size (Mbp)"}]},
     "mark": {"type": "text", "fontSize": 11, "color": "#1A1A1A", "baseline": "middle"},
     "encoding": {"text": {"field": "s"}, "y": {"datum": 0.5, "type": "quantitative", "scale": {"domain": [0, 1]}, "axis": {"minExtent": 26, "maxExtent": 26, "labels": false, "ticks": false, "domain": false, "grid": false, "title": null}}}},
    {"width": 168, "height": 309,
     "layer": [
      {"data": {"name": "minor"}, "transform": [{"filter": "datum.t=='GS'"}],
       "mark": {"type": "rule", "color": "#EBEBEB", "strokeWidth": 0.6},
       "encoding": {"y": {"field": "v", "type": "quantitative", "title": null, "scale": {"domain": [4.644, 7.219], "nice": false, "zero": false},
         "axis": {"values": [5.0, 5.5, 6.0, 6.5, 7.0], "format": ".1f", "minExtent": 26, "maxExtent": 26}}}},
      {"data": {"name": "stats"}, "transform": [{"filter": "datum.t=='GS'"}],
       "mark": {"type": "rule", "strokeWidth": 1},
       "encoding": {
        "x": {"field": "g", "type": "nominal", "title": null, "scale": {"type": "point", "domain": ["AS", "NS"], "padding": 0.6}},
        "y": {"field": "lo", "type": "quantitative", "title": null},
        "y2": {"field": "hi"},
        "color": {"field": "g", "type": "nominal", "scale": {"domain": ["AS", "NS"], "range": ["#F8766D", "#00BFC4"]}, "legend": null}}},
      {"data": {"name": "stats"}, "transform": [{"filter": "datum.t=='GS'"}],
       "mark": {"type": "bar", "fill": "white", "strokeWidth": 1, "width": 46},
       "encoding": {"x": {"field": "g", "type": "nominal"}, "y": {"field": "q1", "type": "quantitative"}, "y2": {"field": "q3"},
        "stroke": {"field": "g", "type": "nominal", "scale": {"domain": ["AS", "NS"], "range": ["#F8766D", "#00BFC4"]}, "legend": null}}},
      {"data": {"name": "stats"}, "transform": [{"filter": "datum.t=='GS'"}],
       "mark": {"type": "tick", "size": 46, "thickness": 2, "opacity": 1},
       "encoding": {"x": {"field": "g", "type": "nominal"}, "y": {"field": "med", "type": "quantitative"}, "color": {"field": "g", "type": "nominal", "legend": null}}},
      {"data": {"name": "pairs"}, "transform": [{"filter": "datum.t=='GS'"}, {"fold": ["AS", "NS"], "as": ["g", "v"]}],
       "mark": {"type": "line", "color": "#BDBDBD", "strokeWidth": 0.8, "opacity": 0.55},
       "encoding": {"x": {"field": "g", "type": "nominal"}, "y": {"field": "v", "type": "quantitative"}, "detail": {"field": "id", "type": "nominal"}}},
      {"data": {"name": "outl"}, "transform": [{"filter": "datum.t=='GS'"}],
       "mark": {"type": "circle", "size": 22, "opacity": 0.9},
       "encoding": {"x": {"field": "g", "type": "nominal"}, "y": {"field": "v", "type": "quantitative"}, "color": {"field": "g", "type": "nominal", "legend": null}}},
      {"data": {"name": "br"}, "transform": [{"filter": "datum.t=='GS'"}],
       "mark": {"type": "rule", "color": "#333333", "strokeWidth": 0.8},
       "encoding": {"x": {"datum": "AS"}, "x2": {"datum": "NS"}, "y": {"field": "top", "type": "quantitative"}}},
      {"data": {"name": "br"}, "transform": [{"filter": "datum.t=='GS'"}],
       "mark": {"type": "rule", "color": "#333333", "strokeWidth": 0.8},
       "encoding": {"x": {"datum": "AS"}, "y": {"field": "top", "type": "quantitative"}, "y2": {"field": "leg"}}},
      {"data": {"name": "br"}, "transform": [{"filter": "datum.t=='GS'"}],
       "mark": {"type": "rule", "color": "#333333", "strokeWidth": 0.8},
       "encoding": {"x": {"datum": "NS"}, "y": {"field": "top", "type": "quantitative"}, "y2": {"field": "leg"}}},
      {"data": {"name": "br"}, "transform": [{"filter": "datum.t=='GS'"}],
       "mark": {"type": "text", "dx": 38.2, "dy": -3, "baseline": "alphabetic", "fontSize": 9, "color": "#1A1A1A"},
       "encoding": {"x": {"datum": "AS"}, "y": {"field": "top", "type": "quantitative"}, "text": {"field": "lab"}}}
     ]}
   ]
  }
 ]
}
